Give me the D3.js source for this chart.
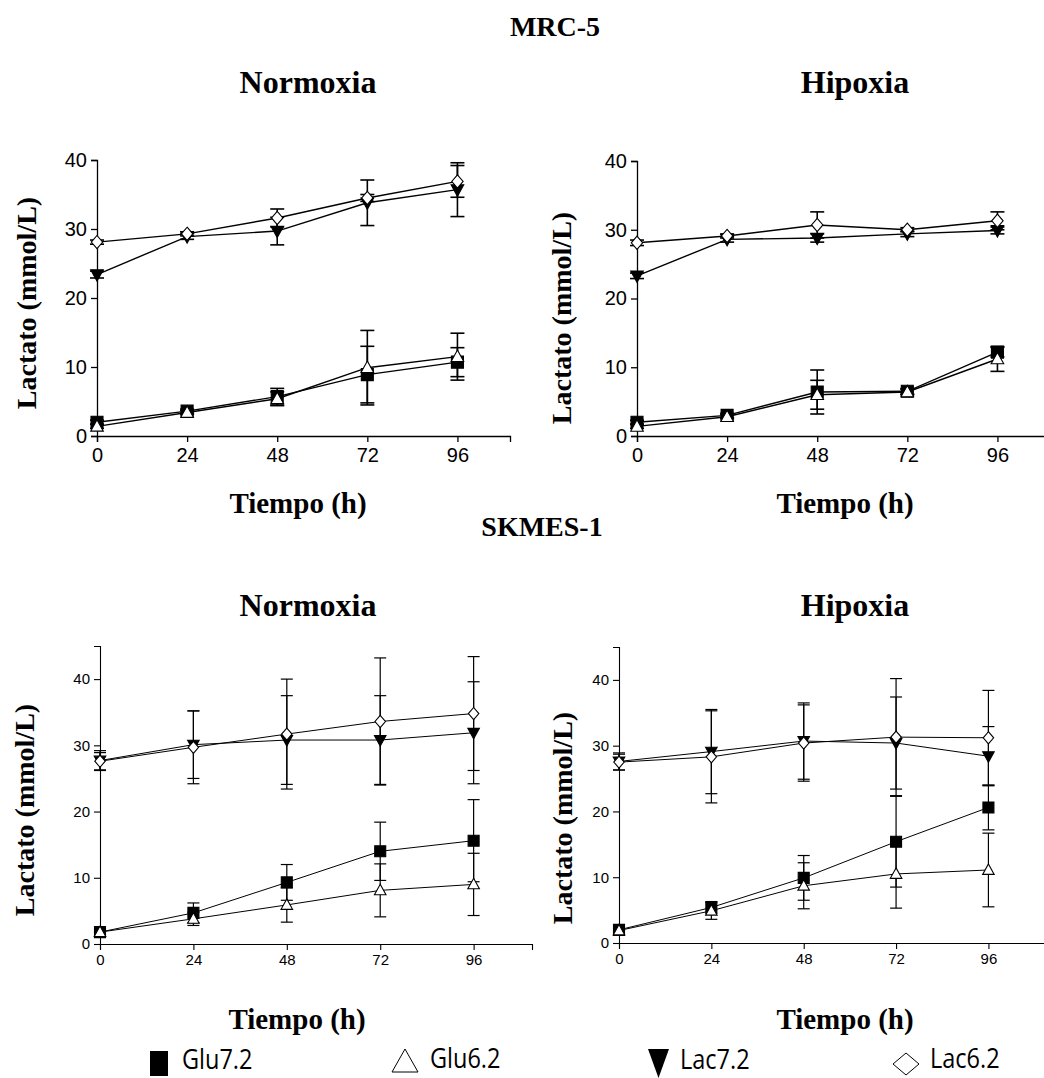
<!DOCTYPE html>
<html>
<head>
<meta charset="utf-8">
<script src="https://cdn.jsdelivr.net/npm/d3@7"></script>
<style>
  body { margin: 0; background: #fff; }
  svg { display: block; }
  .title { font-family: "Liberation Serif", serif; font-weight: bold; fill: #000; }
  .tick text { font-family: "Liberation Sans", Arial, sans-serif; fill: #000; }
</style>
</head>
<body>
<div id="chart"></div>
<script>
// time points (h)
var times = [0, 24, 48, 72, 96];
var seriesNames = ["Glu7.2", "Glu6.2", "Lac7.2", "Lac6.2"];

// MRC-5 normoxia (rows: Glu7.2, Glu6.2, Lac7.2, Lac6.2)
var mrcNormMean = [
    [2.0, 3.6, 5.7, 8.9, 10.7],
    [1.4, 3.4, 5.4, 9.9, 11.5],
    [23.4, 28.9, 29.7, 33.8, 35.7],
    [28.1, 29.3, 31.6, 34.5, 36.9]];
var mrcNormSd = [
    [0.3, 0.3, 1.2, 4.1, 2.1],
    [0.3, 0.3, 1.0, 5.4, 3.4],
    [0.5, 0.4, 2.0, 3.3, 3.9],
    [0.3, 0.3, 1.3, 0.5, 2.3]];

// MRC-5 hipoxia
var mrcHipMean = [
    [2.0, 3.0, 6.4, 6.5, 12.2],
    [1.4, 2.8, 6.0, 6.4, 11.2],
    [23.3, 28.6, 28.8, 29.4, 29.9],
    [28.1, 29.1, 30.7, 30.0, 31.3]];
var mrcHipSd = [
    [0.3, 0.3, 3.2, 0.4, 0.7],
    [0.3, 0.3, 2.1, 0.4, 1.8],
    [0.4, 0.4, 0.6, 0.4, 0.5],
    [0.4, 0.3, 1.9, 0.3, 1.3]];

// SKMES-1 normoxia
var skmesNormMean = [
    [1.8, 4.7, 9.3, 14.0, 15.6],
    [1.8, 3.8, 5.9, 8.1, 9.0],
    [27.7, 30.1, 30.8, 30.8, 31.9],
    [27.6, 29.7, 31.7, 33.6, 34.8]];
var skmesNormSd = [
    [0.3, 1.5, 2.7, 4.4, 6.2],
    [0.3, 1.0, 2.6, 4.0, 4.7],
    [1.5, 5.1, 6.7, 6.7, 7.7],
    [1.3, 5.5, 8.3, 9.6, 8.6]];

// SKMES-1 hipoxia
var skmesHipMean = [
    [2.0, 5.4, 9.9, 15.4, 20.6],
    [1.9, 4.9, 8.7, 10.5, 11.1],
    [27.6, 29.1, 30.7, 30.4, 28.4],
    [27.5, 28.3, 30.4, 31.3, 31.2]];
var skmesHipSd = [
    [0.3, 0.9, 3.4, 6.9, 3.4],
    [0.3, 1.3, 3.5, 5.2, 5.6],
    [1.3, 6.4, 5.8, 7.0, 4.5],
    [1.2, 7.0, 5.8, 8.9, 7.2]];

var yTicks = [0, 10, 20, 30, 40];

var width = 1044, height = 1078;

var svg = d3.select("#chart")
    .append("svg")
    .attr("width", width)
    .attr("height", height);

// marker shapes, s = size in px
function markerPath(kind, s) {
    var h = s / 2;
    if (kind == 0) return "M" + (-h) + "," + (-h) + "H" + h + "V" + h + "H" + (-h) + "Z";
    if (kind == 1) return "M0," + (-h * 1.1) + "L" + (h * 1.05) + "," + (h * 0.8) + "L" + (-h * 1.05) + "," + (h * 0.8) + "Z";
    if (kind == 2) return "M" + (-h * 1.05) + "," + (-h * 0.8) + "L" + (h * 1.05) + "," + (-h * 0.8) + "L0," + (h * 1.1) + "Z";
    return "M0," + (-h * 1.1) + "L" + (h * 0.95) + ",0L0," + (h * 1.1) + "L" + (-h * 0.95) + ",0Z";
}
var markerFill = ["#000", "#fff", "#000", "#fff"];

function drawPanel(p) {
    var x = d3.scaleLinear().domain([0, p.xMax]).range([p.left, p.right]);
    var y = d3.scaleLinear().domain([0, p.yMax]).range([p.bottom, p.top]);
    var g = svg.append("g");

    // axes
    var yAxis = d3.axisLeft(y).tickValues(yTicks).tickSizeOuter(0).tickSize(6).tickPadding(4);
    var xAxis = d3.axisBottom(x).tickValues(times).tickSizeOuter(0).tickSize(6).tickPadding(p.xPad);
    g.append("g").attr("transform", "translate(" + p.left + ",0)").call(yAxis)
        .call(function (a) { a.selectAll("text").style("font-size", p.tickFont + "px"); });
    g.append("g").attr("transform", "translate(0," + p.bottom + ")").call(xAxis)
        .call(function (a) { a.selectAll("text").style("font-size", p.tickFont + "px"); });
    g.selectAll(".domain, .tick line").attr("stroke", "#000").attr("stroke-width", p.axisW);

    var line = d3.line()
        .x(function (d) { return x(d.t); })
        .y(function (d) { return y(d.v); });

    var series = p.mean.map(function (row, k) {
        return row.map(function (v, i) { return { t: times[i], v: v, sd: p.sd[k][i], k: k }; });
    });

    // lines
    g.selectAll(".ln").data(series).enter().append("path")
        .attr("d", line)
        .attr("fill", "none")
        .attr("stroke", "#000")
        .attr("stroke-width", p.lineW);

    // error bars
    series.forEach(function (s) {
        var eb = g.append("g").attr("stroke", "#000").attr("stroke-width", p.errW);
        eb.selectAll(".v").data(s).enter().append("line")
            .attr("x1", function (d) { return x(d.t); })
            .attr("x2", function (d) { return x(d.t); })
            .attr("y1", function (d) { return y(d.v - d.sd); })
            .attr("y2", function (d) { return y(d.v + d.sd); });
        [-1, 1].forEach(function (sgn) {
            eb.selectAll(".c").data(s).enter().append("line")
                .attr("x1", function (d) { return x(d.t) - p.cap; })
                .attr("x2", function (d) { return x(d.t) + p.cap; })
                .attr("y1", function (d) { return y(d.v + sgn * d.sd); })
                .attr("y2", function (d) { return y(d.v + sgn * d.sd); });
        });
    });

    // markers
    series.forEach(function (s, k) {
        g.selectAll(".m").data(s).enter().append("path")
            .attr("transform", function (d) { return "translate(" + x(d.t) + "," + y(d.v) + ")"; })
            .attr("d", markerPath(k, p.mark))
            .attr("fill", markerFill[k])
            .attr("stroke", "#000")
            .attr("stroke-width", 1.1);
    });

    // y label
    svg.append("text")
        .attr("class", "title")
        .attr("transform", "translate(" + p.labX + "," + p.labY + ") rotate(-90)")
        .attr("text-anchor", "middle")
        .style("font-size", "28px")
        .text("Lactato (mmol/L)");
}

drawPanel({ left: 97, right: 510, xMax: 110, top: 160, bottom: 436, yMax: 40,
    mean: mrcNormMean, sd: mrcNormSd, tickFont: 20, xPad: 6, axisW: 1.3, lineW: 1.4, errW: 1.6, cap: 7, mark: 12,
    labX: 36, labY: 303 });
drawPanel({ left: 637, right: 1050, xMax: 110, top: 161, bottom: 436, yMax: 40,
    mean: mrcHipMean, sd: mrcHipSd, tickFont: 20, xPad: 6, axisW: 1.3, lineW: 1.4, errW: 1.6, cap: 7, mark: 12,
    labX: 571, labY: 318 });
drawPanel({ left: 100, right: 532, xMax: 111, top: 646, bottom: 944, yMax: 45,
    mean: skmesNormMean, sd: skmesNormSd, tickFont: 15, xPad: 4, axisW: 1.1, lineW: 1, errW: 1.2, cap: 6, mark: 11,
    labX: 34, labY: 810 });
drawPanel({ left: 619, right: 1050, xMax: 112, top: 647, bottom: 943, yMax: 45,
    mean: skmesHipMean, sd: skmesHipSd, tickFont: 15, xPad: 4, axisW: 1.1, lineW: 1, errW: 1.2, cap: 6, mark: 11,
    labX: 572, labY: 818 });

// titles
var titles = [
    ["MRC-5", 555, 36, 28], ["Normoxia", 308, 93, 32], ["Hipoxia", 855, 93, 32],
    ["Tiempo (h)", 298, 513, 29], ["Tiempo (h)", 845, 513, 29], ["SKMES-1", 542, 536, 28],
    ["Normoxia", 308, 616, 32], ["Hipoxia", 855, 616, 32],
    ["Tiempo (h)", 297, 1029, 29], ["Tiempo (h)", 845, 1029, 29]
];
svg.selectAll(".tt").data(titles).enter().append("text")
    .attr("class", "title")
    .attr("x", function (d) { return d[1]; })
    .attr("y", function (d) { return d[2]; })
    .attr("text-anchor", "middle")
    .style("font-size", function (d) { return d[3] + "px"; })
    .text(function (d) { return d[0]; });

// legend
var legTextX = [182, 430, 680, 930];
var legTextY = [1069, 1068, 1069, 1068];
var leg = svg.append("g");
leg.append("rect").attr("x", 150).attr("y", 1051).attr("width", 18).attr("height", 25).attr("fill", "#000");
leg.append("path").attr("d", "M405,1049L418,1072L392,1072Z").attr("fill", "#fff").attr("stroke", "#000").attr("stroke-width", 1);
leg.append("path").attr("d", "M648,1049L669,1049L658.5,1078Z").attr("fill", "#000");
leg.append("path").attr("d", "M906,1053L919,1064L906,1075L893,1064Z").attr("fill", "#fff").attr("stroke", "#000").attr("stroke-width", 1);
leg.selectAll("text").data(seriesNames).enter().append("text")
    .attr("transform", function (d, i) { return "translate(" + legTextX[i] + "," + legTextY[i] + ") scale(0.87,1)"; })
    .style("font-family", "'Open Sans', sans-serif")
    .style("font-size", "27px")
    .text(function (d) { return d; });
</script>
</body>
</html>
